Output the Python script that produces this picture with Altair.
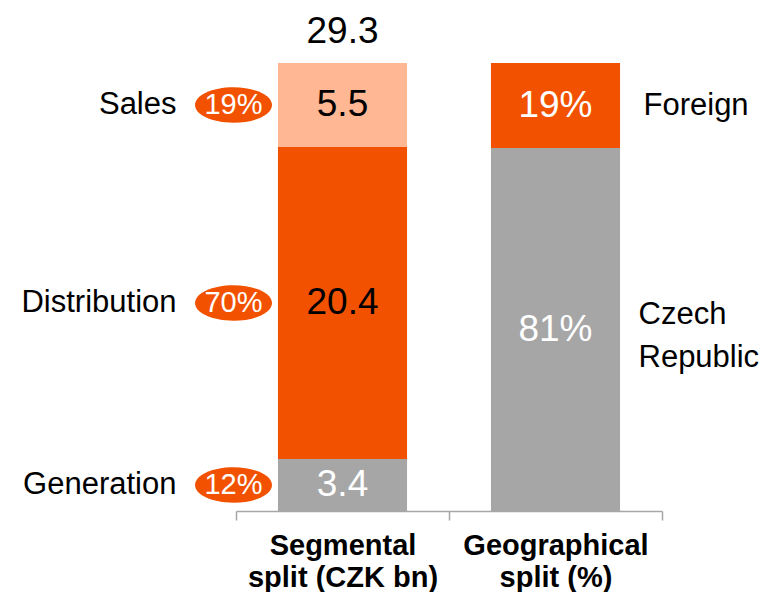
import altair as alt
import pandas as pd

# ---- data ----
categories = ["Segmental|split (CZK bn)", "Geographical|split (%)"]

segment_names = ["Generation", "Distribution", "Sales"]
segment_values = [3.4, 20.4, 5.5]
segment_value_labels = ["3.4", "20.4", "5.5"]
segment_shares = ["12%", "70%", "19%"]

geo_names = ["Czech\nRepublic", "Foreign"]
geo_values = [81, 19]
geo_value_labels = ["81%", "19%"]

# ---- styles ----
FONT = "Liberation Sans"
GRAY = "#A6A6A6"
ORANGE = "#F25100"
PEACH = "#FFB794"

all_names = segment_names + geo_names
fill_range = [GRAY, ORANGE, PEACH, GRAY, ORANGE]
text_range = ["white", "black", "black", "white", "white"]

rows = []
for i, (n, v, l, s) in enumerate(zip(segment_names, segment_values, segment_value_labels, segment_shares)):
    rows.append(dict(cat=categories[0], name=n, value=v, order=i, vlabel=l, share=s))
for i, (n, v, l) in enumerate(zip(geo_names, geo_values, geo_value_labels)):
    rows.append(dict(cat=categories[1], name=n, value=v, order=i, vlabel=l, share=None))
df = pd.DataFrame(rows)

base = (
    alt.Chart(df)
    .transform_joinaggregate(total="sum(value)", groupby=["cat"])
    .transform_calculate(frac="datum.value / datum.total")
    .transform_window(cum="sum(frac)", sort=[alt.SortField("order")], groupby=["cat"], frame=[None, 0])
    .transform_calculate(y0="datum.cum - datum.frac", mid="datum.cum - datum.frac / 2")
)

x_enc = alt.X(
    "cat:N",
    sort=categories,
    scale=alt.Scale(paddingInner=0, paddingOuter=0),
    axis=alt.Axis(
        title=None,
        labelExpr="split(datum.label, '|')",
        labelAngle=0,
        labelFont=FONT,
        labelFontWeight="bold",
        labelFontSize=29,
        labelColor="black",
        labelLineHeight=32,
        labelPadding=11,
        labelLimit=400,
        domainColor=GRAY,
        domainWidth=1.5,
        tickColor=GRAY,
        tickWidth=1.5,
        tickSize=9,
        tickBand="extent",
        grid=False,
    ),
)
x_plain = alt.X("cat:N", sort=categories)
y_scale = alt.Scale(domain=[0, 1])

bars = base.mark_bar(width=alt.RelativeBandSize(0.606)).encode(
    x=x_enc,
    y=alt.Y("y0:Q", scale=y_scale, axis=None),
    y2="cum:Q",
    color=alt.Color("name:N", scale=alt.Scale(domain=all_names, range=fill_range), legend=None),
)

values = base.mark_text(font=FONT, fontSize=37, baseline="middle").encode(
    x=x_plain,
    y=alt.Y("mid:Q", scale=y_scale),
    text="vlabel:N",
    color=alt.Color("name:N", scale=alt.Scale(domain=all_names, range=text_range), legend=None),
)

seg = base.transform_filter("datum.share != null")

left_labels = seg.mark_text(font=FONT, fontSize=31, align="right", baseline="middle", dx=-166, color="black").encode(
    x=x_plain,
    y=alt.Y("mid:Q", scale=y_scale),
    text="name:N",
)

ellipse_path = "M -1 0 A 1 0.46 0 1 1 1 0 A 1 0.46 0 1 1 -1 0 Z"
ellipses = seg.mark_point(shape=ellipse_path, size=5929, filled=True, color=ORANGE, opacity=1).encode(
    x=x_plain,
    xOffset=alt.value(-2.5),
    y=alt.Y("mid:Q", scale=y_scale),
)

ellipse_text = seg.mark_text(font=FONT, fontSize=29, baseline="middle", dx=-109, color="white").encode(
    x=x_plain,
    y=alt.Y("mid:Q", scale=y_scale),
    text="share:N",
)

geo = base.transform_filter("datum.share == null")
right_single = geo.transform_filter("indexof(datum.name, '\\n') < 0").mark_text(
    font=FONT, fontSize=31, align="left", baseline="middle", dx=88, color="black"
).encode(x=x_plain, y=alt.Y("mid:Q", scale=y_scale), text="name:N")
right_multi = geo.transform_filter("indexof(datum.name, '\\n') >= 0").mark_text(
    font=FONT, fontSize=31, align="left", baseline="middle", dx=83, dy=-15, lineBreak="\n", lineHeight=43, color="black"
).encode(x=x_plain, y=alt.Y("mid:Q", scale=y_scale), text="name:N")

total = (
    seg.transform_aggregate(total="sum(value)", top="max(cum)", groupby=["cat"])
    .mark_text(font=FONT, fontSize=37, baseline="middle", dy=-31, color="black")
    .encode(
        x=x_plain,
        y=alt.Y("top:Q", scale=y_scale),
        text=alt.Text("total:Q", format=".1f"),
    )
)

chart = (
    alt.layer(bars, values, left_labels, ellipses, ellipse_text, right_single, right_multi, total)
    .resolve_scale(color="independent")
    .properties(
        width=426,
        height=448,
        padding={"left": 228, "top": 55, "right": 97, "bottom": 81},
        autosize="none",
        background="white",
    )
    .configure_view(stroke=None)
)

chart.save("out.html", embed_options={"renderer": "svg", "actions": False})
